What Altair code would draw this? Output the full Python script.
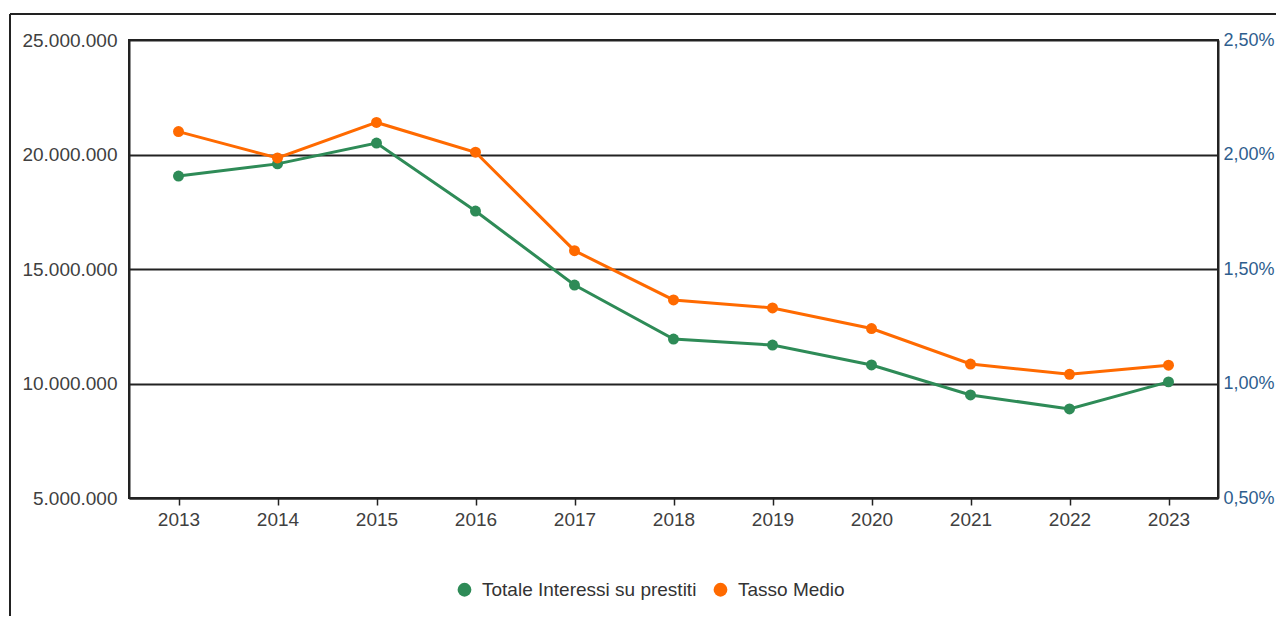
import altair as alt
import pandas as pd

years = ["2013", "2014", "2015", "2016", "2017", "2018", "2019", "2020", "2021", "2022", "2023"]
interessi = [19060000, 19590000, 20500000, 17530000, 14300000, 11940000, 11680000, 10810000, 9500000, 8890000, 10070000]
tasso = [0.0210, 0.01985, 0.0214, 0.0201, 0.0158, 0.01365, 0.0133, 0.0124, 0.01085, 0.0104, 0.0108]
series_names = ["Totale Interessi su prestiti", "Tasso Medio"]
series_colors = ["#2E8B57", "#FF6A00"]

FONT = "Liberation Sans"
FS = 19

df_i = pd.DataFrame({"anno": years, "valore": interessi, "serie": series_names[0]})
df_t = pd.DataFrame({"anno": years, "valore": tasso, "serie": series_names[1]})

color = alt.Color(
    "serie:N",
    scale=alt.Scale(domain=series_names, range=series_colors),
    legend=alt.Legend(
        title=None, orient="none", direction="horizontal",
        legendX=326, legendY=540,
        symbolType="circle", symbolSize=190, symbolStrokeWidth=0,
        labelFontSize=FS, labelFont=FONT, labelColor="#333333", labelLimit=400,
        columnPadding=14, labelOffset=8,
    ),
)

x = alt.X(
    "anno:O", sort=years, title=None,
    scale=alt.Scale(type="point", padding=0.5),
    axis=alt.Axis(labelAngle=0, tickSize=7, tickColor="#222", domainColor="#222",
                  domainWidth=2, tickWidth=1.5, labelPadding=5, labelFontSize=FS,
                  labelFont=FONT, labelColor="#404040", grid=False),
)

line_i = alt.Chart(df_i).mark_line(
    strokeWidth=3, point=alt.OverlayMarkDef(filled=True, size=120)
).encode(
    x=x,
    y=alt.Y("valore:Q", title=None,
            scale=alt.Scale(domain=[5000000, 25000000], nice=False, zero=False),
            axis=alt.Axis(orient="left", values=[5000000, 10000000, 15000000, 20000000, 25000000],
                          format=",.0f", ticks=False, domain=True, domainColor="#222", domainWidth=2,
                          grid=True, gridColor="#222", gridWidth=1.8,
                          labelPadding=12, labelFontSize=FS, labelFont=FONT, labelColor="#404040")),
    color=color,
)

line_t = alt.Chart(df_t).mark_line(
    strokeWidth=3, point=alt.OverlayMarkDef(filled=True, size=120)
).encode(
    x=x,
    y=alt.Y("valore:Q", title=None,
            scale=alt.Scale(domain=[0.005, 0.025], nice=False, zero=False),
            axis=alt.Axis(orient="right", values=[0.005, 0.01, 0.015, 0.02, 0.025],
                          format=".2%", ticks=False, domain=True, domainColor="#222", domainWidth=2,
                          grid=False, labelPadding=5, labelFontSize=18, labelFont=FONT,
                          labelColor="#2E5E8E")),
    color=color,
)

frame_df = pd.DataFrame({"k": [0]})
frame_top = alt.Chart(frame_df).mark_rule(color="#222", strokeWidth=2).encode(
    x=alt.value(-119), x2=alt.value(1160), y=alt.value(-26)
)
frame_left = alt.Chart(frame_df).mark_rule(color="#222", strokeWidth=2).encode(
    x=alt.value(-119), y=alt.value(-26), y2=alt.value(600)
)

chart = alt.layer(line_i, line_t, frame_top, frame_left).resolve_scale(
    y="independent"
).properties(
    width=1089, height=458,
    autosize=alt.AutoSizeParams(type="none"),
    padding={"left": 121, "top": 32, "right": 58, "bottom": 118},
).configure(
    locale={"number": {"decimal": ",", "thousands": ".", "grouping": [3], "currency": ["", " €"]}}
).configure_view(
    stroke="#222", strokeWidth=2
)

chart.save("out.html", embed_options={"renderer": "svg", "actions": False})
